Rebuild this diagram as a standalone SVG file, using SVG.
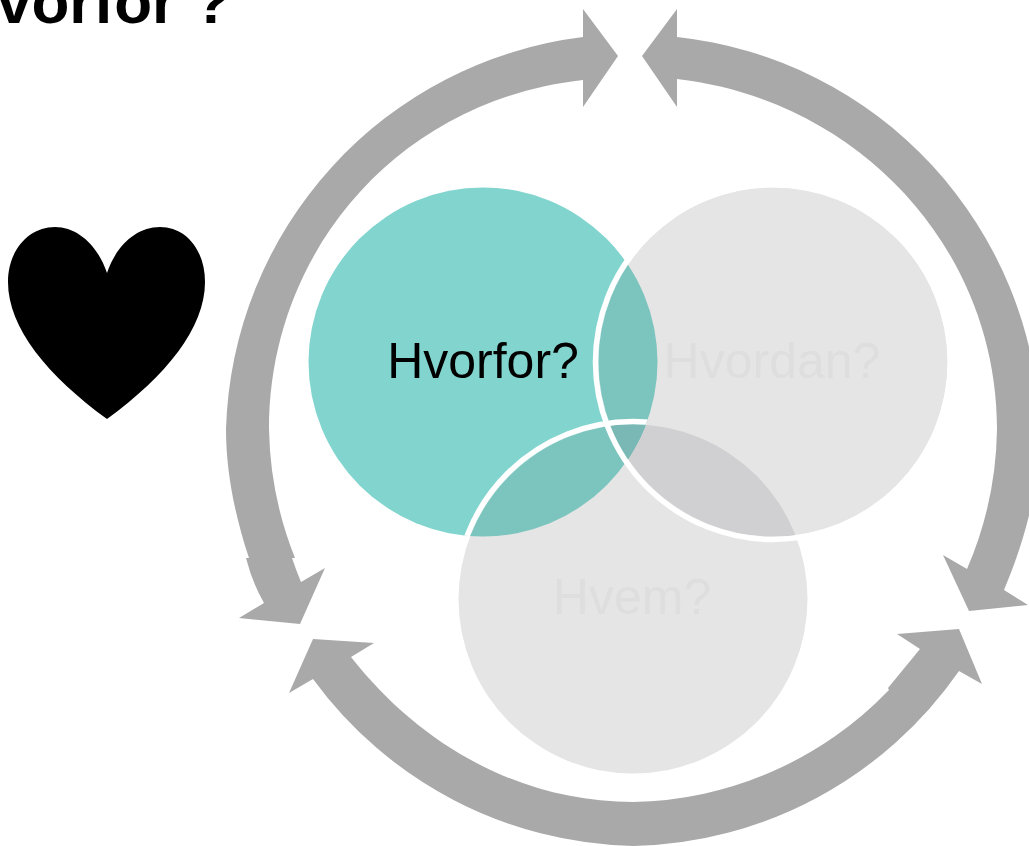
<svg xmlns="http://www.w3.org/2000/svg" width="1029" height="846" viewBox="0 0 1029 846">
<style>
.arrow{fill:#A9A9A9}
.lbl{font-family:"Liberation Sans",Arial,sans-serif;font-size:50px;text-anchor:middle}
.muted{fill:#DEDEDE}
.ring{fill:none;stroke:#FFF;stroke-width:5.5}
</style>
<defs>
<clipPath id="cT"><circle cx="483" cy="362" r="174.5"/></clipPath>
<clipPath id="cR"><circle cx="773" cy="362" r="174.5"/></clipPath>
</defs>
<rect width="1029" height="846" fill="#FFF"/>
<text x="-3" y="23" font-family="'Liberation Sans',Arial,sans-serif" font-size="62" font-weight="700" fill="#000">vorfor ?</text>
<g id="heart"><path fill="#000" d="M107 273C98 246 78 227 55 227C29 227 8 250 8 282C8 328 48 376 107 419C166 376 205 328 205 282C205 250 186 227 160 227C136 227 116 246 107 273Z"/></g>
<g id="connectors">
<path id="arrow-left" class="arrow" d="M583 37A407 407 0 0 0 226 429C226 472 235 516 249 558L246 558Q252 582 264 603L239 618L300 624L325 568L301 582Q296 570 292 558L295 558A364 364 0 0 1 269 429C269 250 400 100 583 80L583 107L618 56L583 9Z"/>
<path id="arrow-right" class="arrow" d="M677 37A407 407 0 0 1 1040 429C1040 485 1025 540 1004 590L1028 605L969 611L943 555L967 569A364 364 0 0 0 997 429C997 250 860 100 677 79L677 107L642 56L677 9Z"/>
<path id="arrow-bottom" class="arrow" d="M313 679A407 407 0 0 0 633 846A407 407 0 0 0 959 671L982 684L959 629L897 634L920 649L888 688L889 690A364 364 0 0 1 633 802C520 802 420 745 351 657L374 643L313 639L289 693Z"/>
</g>
<g id="node-hvorfor"><circle cx="483" cy="362" r="174.5" fill="#82D5CF"/></g>
<g id="node-hvordan"><circle cx="773" cy="362" r="174.5" fill="#E5E5E5"/></g>
<g id="node-hvem"><circle cx="633" cy="599" r="174.5" fill="#E5E5E5"/></g>
<g id="overlaps">
<g clip-path="url(#cR)"><circle cx="633" cy="599" r="174.5" fill="#D0D0D2"/></g>
<g clip-path="url(#cT)"><circle cx="773" cy="362" r="174.5" fill="#7CC4BE"/><circle cx="633" cy="599" r="174.5" fill="#7CC4BE"/></g>
<g clip-path="url(#cT)"><g clip-path="url(#cR)"><circle cx="633" cy="599" r="174.5" fill="#79B8B4"/></g></g>
<g clip-path="url(#cT)"><circle class="ring" cx="633" cy="599" r="177.5"/></g>
<circle class="ring" cx="773" cy="362" r="177.5"/>
</g>
<text class="lbl" x="483" y="378" fill="#000">Hvorfor?</text>
<text class="lbl muted" x="772" y="378">Hvordan?</text>
<text class="lbl muted" x="632" y="614">Hvem?</text>
</svg>
